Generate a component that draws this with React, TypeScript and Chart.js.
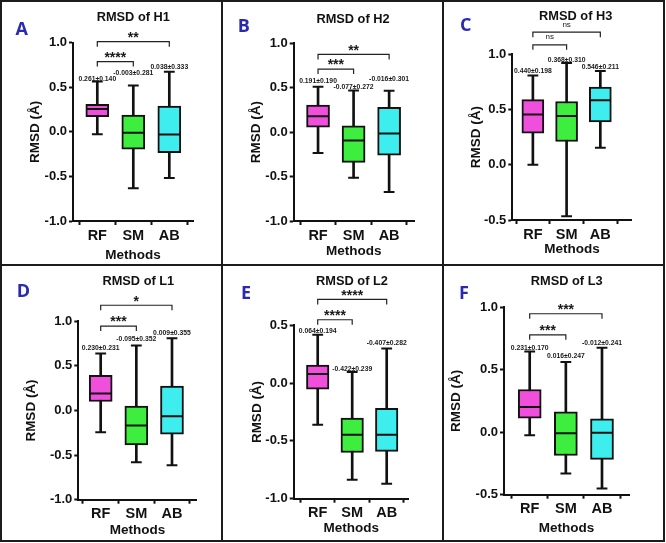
import React, { useEffect, useRef } from 'react';
import { Chart, registerables } from 'chart.js';

Chart.register(...registerables);

const FONT = '"Liberation Sans", Arial, Helvetica, sans-serif';
Chart.defaults.font.family = FONT;

// ---------- data ----------
const methods = ['RF', 'SM', 'AB'];
const boxColors = ['#F04FDC', '#3EEE3E', '#3EEEEE'];
const panelLetters = ['A', 'B', 'C', 'D', 'E', 'F'];
const panelTitles = ['RMSD of H1', 'RMSD of H2', 'RMSD of H3', 'RMSD of L1', 'RMSD of L2', 'RMSD of L3'];

// H1
const h1Min = [-0.026, -0.632, -0.519];
const h1Q1 = [0.169, -0.195, -0.233];
const h1Median = [0.256, -0.011, -0.03];
const h1Q3 = [0.308, 0.188, 0.289];
const h1Max = [0.564, 0.519, 0.673];
const h1MeanSd = ['0.261±0.140', '-0.003±0.281', '0.038±0.333'];
const h1Stars = ['****', '**'];

// H2
const h2Min = [-0.236, -0.514, -0.675];
const h2Q1 = [0.056, -0.341, -0.26];
const h2Median = [0.18, -0.094, -0.015];
const h2Q3 = [0.304, 0.071, 0.28];
const h2Max = [0.51, 0.469, 0.465];
const h2MeanSd = ['0.191±0.190', '-0.077±0.272', '-0.016±0.301'];
const h2Stars = ['***', '**'];

// H3
const h3Min = [0.0, -0.465, 0.154];
const h3Q1 = [0.287, 0.211, 0.389];
const h3Median = [0.456, 0.441, 0.583];
const h3Q3 = [0.589, 0.573, 0.703];
const h3Max = [0.809, 0.921, 0.848];
const h3MeanSd = ['0.440±0.198', '0.368±0.310', '0.546±0.211'];
const h3Stars = ['ns', 'ns'];

// L1
const l1Min = [-0.243, -0.579, -0.613];
const l1Q1 = [0.101, -0.385, -0.265];
const l1Median = [0.191, -0.168, -0.064];
const l1Q3 = [0.393, 0.049, 0.273];
const l1Max = [0.639, 0.729, 0.811];
const l1MeanSd = ['0.230±0.231', '-0.095±0.352', '0.009±0.355'];
const l1Stars = ['***', '*'];

// L2
const l2Min = [-0.361, -0.836, -0.871];
const l2Q1 = [-0.052, -0.6, -0.591];
const l2Median = [0.078, -0.447, -0.447];
const l2Q3 = [0.156, -0.303, -0.219];
const l2Max = [0.418, 0.095, 0.3];
const l2MeanSd = ['0.064±0.194', '-0.422±0.239', '-0.407±0.282'];
const l2Stars = ['****', '****'];

// L3
const l3Min = [-0.024, -0.33, -0.45];
const l3Q1 = [0.112, -0.187, -0.218];
const l3Median = [0.2, -0.008, -0.005];
const l3Q3 = [0.341, 0.163, 0.107];
const l3Max = [0.645, 0.56, 0.674];
const l3MeanSd = ['0.231±0.170', '0.016±0.247', '-0.012±0.241'];
const l3Stars = ['***', '***'];

// ---------- layout per panel ----------
type Panel = {
  letter: string; title: string;
  min: number[]; q1: number[]; median: number[]; q3: number[]; max: number[];
  meanSd: string[]; stars: string[];
  cell: number[]; area: number[]; yRange: number[]; xRange: number[];
  yTitleX: number; xTitleY: number; titleX: number; titleY: number; letterPos: number[];
  bracketAt: number[]; lift: number[]; boxW: number;
};

const panels: Panel[] = [
  {
    letter: panelLetters[0], title: panelTitles[0],
    min: h1Min, q1: h1Q1, median: h1Median, q3: h1Q3, max: h1Max, meanSd: h1MeanSd, stars: h1Stars,
    cell: [0, 0, 222, 265], area: [73, 42.7, 193, 221], yRange: [-1, 1], xRange: [-0.675, 2.658],
    yTitleX: 35, xTitleY: 255, titleX: 133.3, titleY: 16.7, letterPos: [21.7, 28.3],
    bracketAt: [0.788, 1.012], lift: [3.5, 13, 5], boxW: 23,
  },
  {
    letter: panelLetters[1], title: panelTitles[1],
    min: h2Min, q1: h2Q1, median: h2Median, q3: h2Q3, max: h2Max, meanSd: h2MeanSd, stars: h2Stars,
    cell: [222, 0, 221, 265], area: [71.7, 43.3, 192, 221], yRange: [-1, 1], xRange: [-0.685, 2.7],
    yTitleX: 34.5, xTitleY: 251.7, titleX: 131, titleY: 18.3, letterPos: [21.7, 26],
    bracketAt: [0.71, 0.875], lift: [6, 4, 12], boxW: 23,
  },
  {
    letter: panelLetters[2], title: panelTitles[2],
    min: h3Min, q1: h3Q1, median: h3Median, q3: h3Q3, max: h3Max, meanSd: h3MeanSd, stars: h3Stars,
    cell: [443, 0, 223, 265], area: [69.3, 54.3, 188.7, 220], yRange: [-0.5, 1], xRange: [-0.61, 2.93],
    yTitleX: 33.5, xTitleY: 249.3, titleX: 132.7, titleY: 15, letterPos: [22.7, 25],
    bracketAt: [1.086, 1.2], lift: [5, 3.4, 5], boxW: 22,
  },
  {
    letter: panelLetters[3], title: panelTitles[3],
    min: l1Min, q1: l1Q1, median: l1Median, q3: l1Q3, max: l1Max, meanSd: l1MeanSd, stars: l1Stars,
    cell: [0, 265, 222, 278], area: [78.3, 56.3, 196.7, 234.7], yRange: [-1, 1], xRange: [-0.628, 2.693],
    yTitleX: 30.8, xTitleY: 265.3, titleX: 138.3, titleY: 15.3, letterPos: [23.3, 25.3],
    bracketAt: [0.946, 1.18], lift: [5.6, 6.6, 5.4], boxW: 23,
  },
  {
    letter: panelLetters[4], title: panelTitles[4],
    min: l2Min, q1: l2Q1, median: l2Median, q3: l2Q3, max: l2Max, meanSd: l2MeanSd, stars: l2Stars,
    cell: [222, 265, 221, 278], area: [71.7, 60.3, 186.7, 233.7], yRange: [-1, 0.5], xRange: [-0.696, 2.638],
    yTitleX: 35, xTitleY: 263.7, titleX: 130, titleY: 15.3, letterPos: [24, 27.7],
    bracketAt: [0.548, 0.724], lift: [4, 3.4, 5.6], boxW: 22.5,
  },
  {
    letter: panelLetters[5], title: panelTitles[5],
    min: l3Min, q1: l3Q1, median: l3Median, q3: l3Q3, max: l3Max, meanSd: l3MeanSd, stars: l3Stars,
    cell: [443, 265, 223, 278], area: [61, 42, 186, 229.7], yRange: [-0.5, 1], xRange: [-0.711, 2.747],
    yTitleX: 13.7, xTitleY: 263.7, titleX: 123.7, titleY: 15.3, letterPos: [21, 27.7],
    bracketAt: [0.778, 0.946], lift: [3.4, 6.3, 5], boxW: 23,
  },
];

const INK = '#111111';
const AXIS_TITLE_SIZE = 13.5;

function fmtY(v: number) {
  const r = Math.round(v * 10) / 10;
  return (Math.abs(r) < 1e-9 ? 0 : r).toFixed(1);
}

function textAt(ctx: CanvasRenderingContext2D, s: string, x: number, cy: number, size: number, capRatio = 0.358) {
  ctx.textBaseline = 'alphabetic';
  ctx.fillText(s, x, cy + capRatio * size);
}

function makeOverlay(p: Panel) {
  return {
    id: 'overlay',
    afterDraw(chart: any) {
      const ctx: CanvasRenderingContext2D = chart.ctx;
      const xs = chart.scales.x;
      const ys = chart.scales.y;
      ctx.save();
      ctx.textAlign = 'center';
      // title
      ctx.fillStyle = INK;
      ctx.font = `bold 12.8px ${FONT}`;
      textAt(ctx, p.title, p.titleX, p.titleY, 12.8);
      // panel letter
      ctx.fillStyle = '#2A2AB0';
      ctx.font = `bold 18px "Open Sans", ${FONT}`;
      textAt(ctx, p.letter, p.letterPos[0], p.letterPos[1], 18);
      // mean ± sd labels
      ctx.fillStyle = '#1a1a1a';
      ctx.font = `bold 6.8px ${FONT}`;
      p.max.forEach((m, i) => {
        textAt(ctx, p.meanSd[i], xs.getPixelForValue(i), ys.getPixelForValue(m) - p.lift[i], 6.8);
      });
      // significance brackets
      p.stars.forEach((s, k) => {
        const yv = ys.getPixelForValue(p.bracketAt[k]);
        const x0 = xs.getPixelForValue(0);
        const x1 = xs.getPixelForValue(k + 1);
        ctx.strokeStyle = '#222';
        ctx.lineWidth = 1.2;
        ctx.beginPath();
        ctx.moveTo(x0, yv + 5);
        ctx.lineTo(x0, yv);
        ctx.lineTo(x1, yv);
        ctx.lineTo(x1, yv + 5);
        ctx.stroke();
        ctx.fillStyle = '#1a1a1a';
        ctx.textBaseline = 'alphabetic';
        const mid = (x0 + x1) / 2;
        if (s === 'ns') {
          ctx.font = `8px ${FONT}`;
          ctx.fillText(s, mid, yv - 5.6);
        } else {
          ctx.font = `bold 14px ${FONT}`;
          ctx.fillText(s, mid, yv + 0.3);
        }
      });
      ctx.restore();
    },
  };
}

function makeConfig(p: Panel): any {
  const [, , W, H] = p.cell;
  const [l, t, r, b] = p.area;
  const lh = AXIS_TITLE_SIZE * 1.2;
  const padLeft = p.yTitleX - lh / 2;
  const yAxisW = l - padLeft;
  const xBottom = p.xTitleY + lh / 2;
  const xAxisH = xBottom - b;
  const padBottom = H - xBottom;
  const idx = methods.map((_, i) => i);

  const axisCommon = {
    grid: { drawOnChartArea: false, drawTicks: true, tickLength: 4, tickWidth: 2, tickColor: INK, color: INK },
    border: { display: true, color: INK, width: 2 },
  };

  return {
    type: 'bar',
    data: {
      datasets: [
        {
          type: 'bar',
          data: idx.map((i) => ({ x: i, y: [p.min[i], p.max[i]] })),
          backgroundColor: INK,
          borderWidth: 0,
          barThickness: 2,
          grouped: false,
          order: 3,
        },
        {
          type: 'bar',
          data: idx.map((i) => ({ x: i, y: [p.q1[i], p.q3[i]] })),
          backgroundColor: boxColors,
          borderColor: INK,
          borderWidth: 2,
          borderSkipped: false,
          barThickness: p.boxW,
          grouped: false,
          order: 2,
        },
        {
          type: 'scatter',
          data: idx.map((i) => ({ x: i, y: p.median[i] })),
          pointStyle: 'line',
          pointRadius: p.boxW / 2 - 1,
          pointBorderColor: INK,
          pointBorderWidth: 2,
          order: 1,
        },
        {
          type: 'scatter',
          data: idx.flatMap((i) => [{ x: i, y: p.min[i] }, { x: i, y: p.max[i] }]),
          pointStyle: 'line',
          pointRadius: 5.4,
          pointBorderColor: INK,
          pointBorderWidth: 2,
          order: 1,
        },
      ],
    },
    options: {
      responsive: false,
      animation: false,
      events: [],
      layout: { padding: { left: padLeft, top: t, right: W - r, bottom: padBottom } },
      plugins: {
        legend: { display: false },
        title: { display: false },
        tooltip: { enabled: false },
      },
      scales: {
        x: {
          type: 'linear',
          min: p.xRange[0],
          max: p.xRange[1],
          offset: false,
          afterBuildTicks: (ax: any) => {
            ax.ticks = idx.map((i) => ({ value: i }));
          },
          afterFit: (ax: any) => {
            ax.height = xAxisH;
          },
          ticks: {
            autoSkip: false,
            maxRotation: 0,
            padding: 2,
            color: INK,
            font: { size: 14.5, weight: 'bold' },
            callback: (v: number) => methods[v] ?? '',
          },
          title: {
            display: true,
            text: 'Methods',
            color: INK,
            padding: 0,
            font: { size: AXIS_TITLE_SIZE, weight: 'bold' },
          },
          ...axisCommon,
        },
        y: {
          type: 'linear',
          min: p.yRange[0],
          max: p.yRange[1],
          afterFit: (ax: any) => {
            ax.width = yAxisW;
          },
          ticks: {
            stepSize: 0.5,
            padding: 2,
            color: INK,
            font: { size: 13, weight: 'bold' },
            callback: (v: number) => fmtY(v),
          },
          title: {
            display: true,
            text: 'RMSD (Å)',
            color: INK,
            padding: 0,
            font: { size: AXIS_TITLE_SIZE, weight: 'bold' },
          },
          ...axisCommon,
        },
      },
    },
    plugins: [makeOverlay(p)],
  };
}

function PanelChart({ p }: { p: Panel }) {
  const ref = useRef<HTMLCanvasElement | null>(null);
  useEffect(() => {
    if (!ref.current) return;
    const chart = new Chart(ref.current, makeConfig(p));
    return () => chart.destroy();
  }, [p]);
  const [x, y, w, h] = p.cell;
  return (
    <canvas
      ref={ref}
      width={w}
      height={h}
      style={{ position: 'absolute', left: x, top: y, width: w, height: h, display: 'block' }}
    />
  );
}

export default function App() {
  const line = '#1c1c1c';
  return (
    <div
      style={{
        position: 'fixed',
        left: 0,
        top: 0,
        width: 666,
        height: 543,
        background: '#ffffff',
        overflow: 'hidden',
      }}
    >
      {panels.map((p) => (
        <PanelChart key={p.letter} p={p} />
      ))}
      <div
        style={{
          position: 'absolute',
          left: 0,
          top: 0,
          width: 665,
          height: 542,
          border: `2px solid ${line}`,
          boxSizing: 'border-box',
        }}
      />
      <div style={{ position: 'absolute', left: 221, top: 0, width: 2, height: 542, background: line }} />
      <div style={{ position: 'absolute', left: 442, top: 0, width: 2, height: 542, background: line }} />
      <div style={{ position: 'absolute', left: 0, top: 264, width: 665, height: 2, background: line }} />
    </div>
  );
}
